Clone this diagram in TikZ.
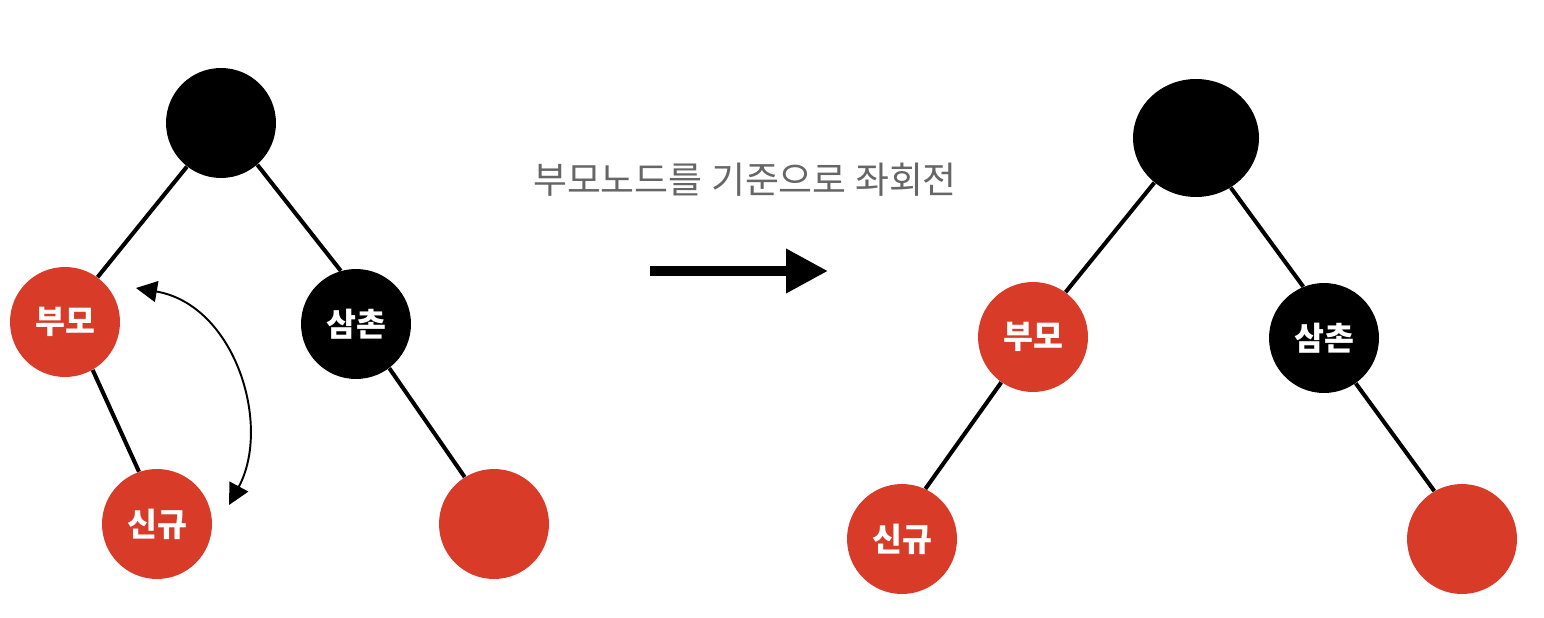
\documentclass[tikz,border=0pt]{standalone}
\usepackage{fontspec}
\setmainfont{Noto Sans CJK KR}
\usepackage{xcolor}
\usepackage{tikz}
\usetikzlibrary{arrows.meta}
\usetikzlibrary{shapes.geometric}
\definecolor{nodered}{RGB}{217,59,41}
\definecolor{captiongray}{RGB}{102,102,102}
\tikzstyle{rednode} = [circle, fill=nodered, minimum size=2.2cm, inner sep=0pt, text=white, font=\bfseries\fontsize{18.5}{18.5}\selectfont]
\tikzstyle{blacknode} = [circle, fill=black, minimum size=2.2cm, inner sep=0pt, text=white, font=\bfseries\fontsize{18.5}{18.5}\selectfont]
\tikzstyle{edge} = [-, line width=2.3pt]

\begin{document}
\begin{tikzpicture}[x=0.02cm, y=-0.02cm]
\useasboundingbox (0,0) rectangle (1544,618);
% before rotation
\node [blacknode] (G1) at (221,123) {};
\node [rednode] (P1) at (65,322) {부모};
\node [blacknode] (U1) at (356,324) {삼촌};
\node [rednode] (N1) at (157,524) {신규};
\node [rednode] (S1) at (494,524) {};
\draw [edge] (G1.-128) to (P1.54);
\draw [edge] (G1.-49) to (U1.106);
\draw [edge] (P1.-60) to (N1.109);
\draw [edge] (U1.-53) to (S1.122);
\coordinate (A1) at (136,288);
\coordinate (A2) at (229,505);
\draw [{Triangle[length=0.42cm, width=0.42cm]}-{Triangle[length=0.42cm, width=0.42cm]}, line width=1.1pt] (A1) .. controls (235,305) and (272,425) .. (A2);
% rotation arrow
\node [text=captiongray, font=\fontsize{21}{21}\selectfont] (T) at (745,180) {부모노드를 기준으로 좌회전};
\coordinate (B1) at (650,271);
\coordinate (B2) at (828,271);
\draw [-{Triangle[length=0.84cm, width=0.84cm]}, line width=0.2cm] (B1) -- (B2);
% after rotation
\node [ellipse, fill=black, minimum width=2.52cm, minimum height=2.36cm] (G2) at (1196,138) {};
\node [rednode] (P2) at (1033,337) {부모};
\node [blacknode] (U2) at (1324,338) {삼촌};
\node [rednode] (N2) at (902,539) {신규};
\node [rednode] (S2) at (1462,539) {};
\draw [edge] (G2.-133) to (P2.54);
\draw [edge] (G2.-55) to (U2.112);
\draw [edge] (P2.-125) to (N2.65);
\draw [edge] (U2.-55) to (S2.120);
\end{tikzpicture}
\end{document}
